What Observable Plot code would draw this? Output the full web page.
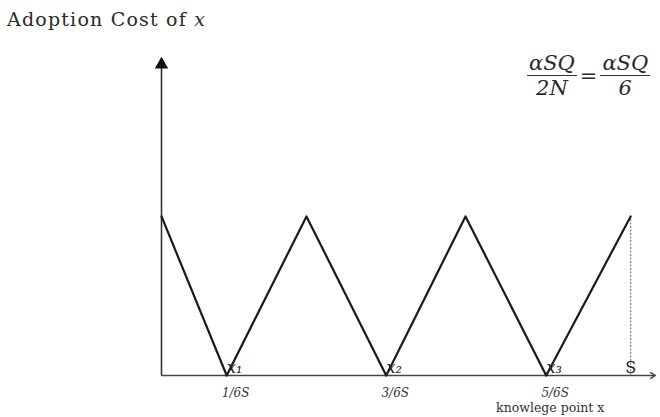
<!DOCTYPE html>
<html><head><meta charset="utf-8">
<script src="https://cdn.jsdelivr.net/npm/d3@7"></script>
<script src="https://cdn.jsdelivr.net/npm/@observablehq/plot@0.6"></script>
<style>
body{margin:0;background:#fff;}
#wrap{position:relative;width:660px;height:417px;overflow:hidden;font-family:"DejaVu Serif",serif;color:#222;}
#title{position:absolute;left:7px;top:8px;font-size:19px;letter-spacing:1.2px;color:#2a2a2a;}
#formula{position:absolute;left:527px;top:51px;font-size:21px;font-style:italic;display:flex;align-items:center;white-space:nowrap;color:#2a2a2a;}
.frac{display:inline-flex;flex-direction:column;align-items:center;}
.frac .num{border-bottom:1.6px solid #333;padding:0 2px 0 2px;}
.frac .den{padding-top:0px;}
.eq{font-style:normal;margin:0 3px;}
</style></head><body>
<div id="wrap">
<div id="chart"></div>
<div id="title">Adoption Cost of <i>x</i></div>
<div id="formula"><span class="frac"><span class="num">αSQ</span><span class="den">2N</span></span><span class="eq">=</span><span class="frac"><span class="num">αSQ</span><span class="den">6</span></span></div>
</div>
<script>
// knowledge point positions (in units of S) and adoption cost
const knowledgeX = [0, 0.139, 0.309, 0.479, 0.648, 0.82, 1.0];
const adoptionCost = [1, 0, 1, 0, 1, 0, 1];
const minimaX = [0.139, 0.479, 0.82];
const tickLabels = ["1/6S", "3/6S", "5/6S"];
const pointLabels = ["x\u2081", "x\u2082", "x\u2083"];
const endLabel = "S";
const xAxisTitle = "knowlege point x";
const xMax = 1.053;
const yMax = 1.98;

const zig = knowledgeX.map((x, i) => ({x, y: adoptionCost[i]}));
const peakEnd = zig[zig.length - 1];

const chart = Plot.plot({
  width: 660,
  height: 417,
  marginLeft: 161,
  marginRight: 5,
  marginTop: 60,
  marginBottom: 42,
  style: {fontFamily: "'DejaVu Serif', serif", color: "#222", background: "#fff"},
  x: {domain: [0, xMax]},
  y: {domain: [0, yMax], axis: null},
  marks: [
    // y axis line with arrow head
    Plot.ruleX([0], {y1: 0, y2: yMax, stroke: "#333", strokeWidth: 1.6}),
    Plot.dot([{x: 0, y: yMax}], {x: "x", y: "y", symbol: "triangle", r: 5, fill: "#111", stroke: "none", dy: 4}),
    // x axis with arrow
    Plot.arrow([{x1: 0, x2: xMax, y: 0}], {x1: "x1", x2: "x2", y1: "y", y2: "y", stroke: "#444", strokeWidth: 1.4, headLength: 6}),
    // dotted line at S
    Plot.ruleX([peakEnd], {x: "x", y1: 0, y2: "y", stroke: "#888", strokeWidth: 1.3, strokeDasharray: "2,1.5"}),
    // zigzag
    Plot.line(zig, {x: "x", y: "y", stroke: "#1a1a1a", strokeWidth: 2.2}),
    // tick labels
    Plot.axisX({ticks: minimaX, tickFormat: (d, i) => tickLabels[i], tickSize: 0, tickPadding: 13, fontSize: 12, fontStyle: "italic", label: null, dx: 9, fill: "#333"}),
    // point labels
    Plot.text(minimaX, {x: d => d, y: () => 0, text: (d, i) => pointLabels[i], dx: 8, dy: -8, fontSize: 16, fontStyle: "italic", fill: "#222"}),
    Plot.text([peakEnd], {x: "x", y: () => 0, text: () => endLabel, dy: -8, fontSize: 16, fill: "#222"}),
    Plot.text([xAxisTitle], {x: () => minimaX[2], frameAnchor: "bottom", text: d => d, dx: 4, dy: 36, fontSize: 12.5, fill: "#333"})
  ]
});
document.getElementById("chart").appendChild(chart);
</script>
</body></html>
